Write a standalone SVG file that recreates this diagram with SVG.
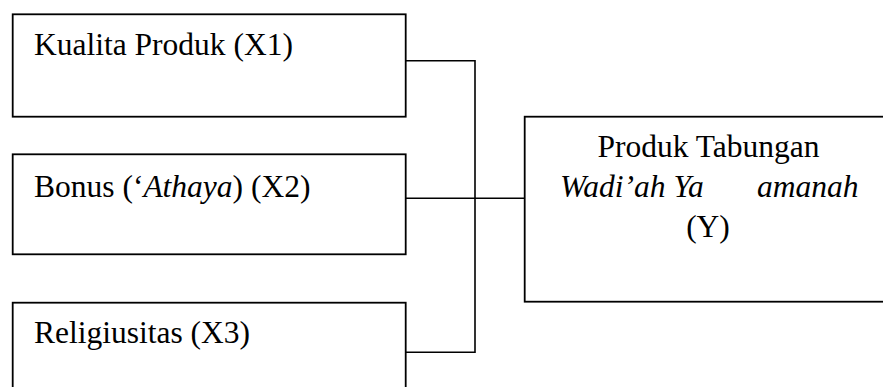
<svg xmlns="http://www.w3.org/2000/svg" width="883" height="387" viewBox="0 0 883 387">
<style>
.box{fill:#fff;stroke:#000;stroke-width:1.8}
.t{font-family:"Liberation Serif","Times New Roman",serif;font-size:31.5px;fill:#000}
.i{font-style:italic}
.c{fill:none;stroke:#000;stroke-width:1.6}
</style>
<rect x="0" y="0" width="883" height="387" fill="#fff"/>
<g id="connectors">
<path class="c" d="M405.7 60.7 H475 V352.3 H405.7"/>
<path class="c" d="M405.7 198.3 H524.7"/>
</g>
<g id="x1">
<rect class="box" x="12.7" y="14.3" width="393" height="102.4"/>
<text class="t" x="34" y="55">Kualita Produk (X1)</text>
</g>
<g id="x2">
<rect class="box" x="12.7" y="154.3" width="393" height="100"/>
<text class="t" x="34" y="196.5">Bonus (‘<tspan class="i">Athaya</tspan>) (X2)</text>
</g>
<g id="x3">
<rect class="box" x="12.7" y="302.7" width="393" height="110"/>
<text class="t" x="34" y="343.3">Religiusitas (X3)</text>
</g>
<g id="y">
<rect class="box" x="524.7" y="116.7" width="380" height="185"/>
<text class="t" x="708.5" y="157" text-anchor="middle">Produk Tabungan</text>
<text class="t i" x="560" y="197">Wadi’ah Ya<tspan x="757">amanah</tspan></text>
<text class="t" x="708" y="237" text-anchor="middle">(Y)</text>
</g>
</svg>
